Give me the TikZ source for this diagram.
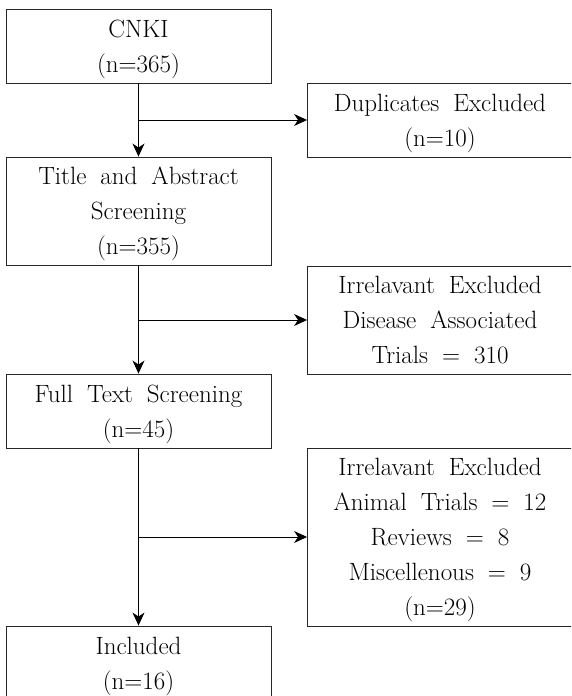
\documentclass[tikz,border=0pt]{standalone}
\usepackage{fontspec}
\usetikzlibrary{arrows.meta}
\newcommand{\boxfont}{\fontsize{25}{35}\selectfont\spaceskip=14pt plus 2pt minus 1pt\relax}
\begin{document}
\begin{tikzpicture}[x=1pt,y=-1pt,
  box/.style={draw=black!85,line width=0.9pt,rectangle,minimum width=265pt,inner sep=0pt,align=center,
    font=\boxfont,text depth=-5pt},
  arr/.style={draw=black,line width=0.9pt,-{Stealth[length=13pt,width=12pt,inset=4pt]}}]
\useasboundingbox (0,0) rectangle (571,696);
\clip (0,0) rectangle (571,696);
\node[box,minimum height=74pt] (cnki) at (138.5,46) {CNKI\\(n=365)};
\node[box,minimum height=74pt] (dup) at (440,120) {Duplicates Excluded\\(n=10)};
\node[box,minimum height=108pt] (title) at (138.5,211) {Title and Abstract\\Screening\\(n=355)};
\node[box,minimum height=108pt,text depth=0pt] (irr1) at (440,320) {Irrelavant Excluded\\Disease Associated\\Trials = 310};
\node[box,minimum height=74pt] (full) at (138.5,411) {Full Text Screening\\(n=45)};
\node[box,minimum height=178pt] (irr2) at (440,537) {Irrelavant Excluded\\Animal Trials = 12\\Reviews = 8\\Miscellenous = 9\\(n=29)};
\node[box,minimum height=74pt] (incl) at (138.5,663) {Included\\(n=16)};
\draw[arr] (cnki.south) -- (title.north);
\draw[arr] (cnki.south |- dup.west) -- (dup.west);
\draw[arr] (title.south) -- (full.north);
\draw[arr] (title.south |- irr1.west) -- (irr1.west);
\draw[arr] (full.south) -- (incl.north);
\draw[arr] (full.south |- irr2.west) -- (irr2.west);
\end{tikzpicture}
\end{document}
